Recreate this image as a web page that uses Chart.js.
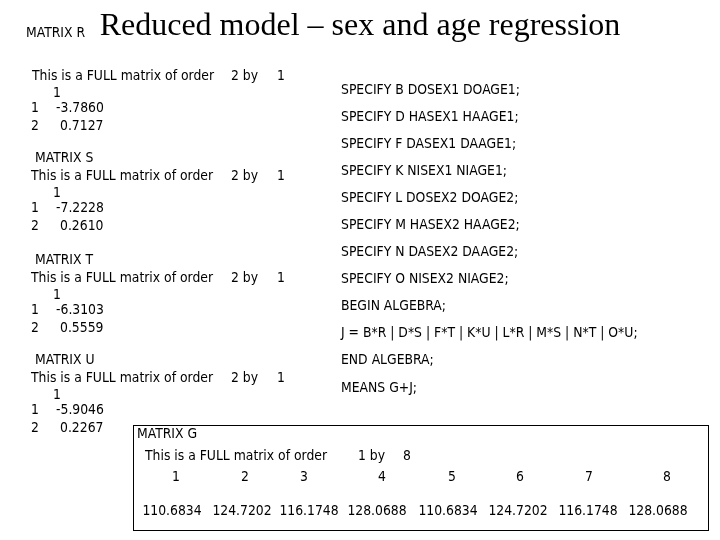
<!DOCTYPE html>
<html>
<head>
<meta charset="utf-8">
<script src="https://cdn.jsdelivr.net/npm/chart.js@4/dist/chart.umd.min.js"></script>
<style>
  html, body { margin: 0; padding: 0; background: #fff; }
</style>
</head>
<body>
<canvas id="slide" width="720" height="540"></canvas>
<script>
const TITLE = 'Reduced model \u2013 sex and age regression';

// left matrices: name and the two row values
const matrixNames = ['R', 'S', 'T', 'U'];
const matrixValues = [
    ['-3.7860', '0.7127'],
    ['-7.2228', '0.2610'],
    ['-6.3103', '0.5559'],
    ['-5.9046', '0.2267']
];

const specifyLines = [
    'SPECIFY B DOSEX1 DOAGE1;',
    'SPECIFY D HASEX1 HAAGE1;',
    'SPECIFY F DASEX1 DAAGE1;',
    'SPECIFY K NISEX1 NIAGE1;',
    'SPECIFY L DOSEX2 DOAGE2;',
    'SPECIFY M HASEX2 HAAGE2;',
    'SPECIFY N DASEX2 DAAGE2;',
    'SPECIFY O NISEX2 NIAGE2;',
    'BEGIN ALGEBRA;',
    'J = B*R | D*S | F*T | K*U | L*R | M*S | N*T | O*U;',
    'END ALGEBRA;',
    'MEANS G+J;'
];

const gColumns = ['1', '2', '3', '4', '5', '6', '7', '8'];
const gValues = ['110.6834', '124.7202', '116.1748', '128.0688', '110.6834', '124.7202', '116.1748', '128.0688'];

const FONT = '13.8px "DejaVu Sans Condensed", Tahoma, "DejaVu Sans", sans-serif';

const textPlugin = {
    id: 'slideText',
    afterDraw(chart) {
        const ctx = chart.ctx;
        const sx = v => chart.scales.x.getPixelForValue(v);
        const sy = v => chart.scales.y.getPixelForValue(v);
        ctx.save();
        ctx.fillStyle = '#000';
        ctx.textBaseline = 'middle';

        // title
        ctx.font = '32px "Liberation Serif", "Times New Roman", serif';
        ctx.textAlign = 'center';
        ctx.fillText(TITLE, sx(360), sy(27));

        ctx.font = FONT;
        ctx.textAlign = 'left';

        // left matrices
        const tops = [33, 158, 260, 360];
        matrixNames.forEach((name, i) => {
            const t = tops[i];
            const first = i === 0 ? 76 : t + 18;
            ctx.fillText('MATRIX ' + name, sx(i === 0 ? 26 : 35), sy(t));
            ctx.fillText('This is a FULL matrix of order', sx(i === 0 ? 32 : 31), sy(first));
            ctx.fillText('2 by', sx(231), sy(first));
            ctx.fillText('1', sx(277), sy(first));
            ctx.fillText('1', sx(53), sy(first + 17));
            ctx.fillText('1', sx(31), sy(first + 32));
            ctx.fillText(matrixValues[i][0], sx(56), sy(first + 32));
            ctx.fillText('2', sx(31), sy(first + 50));
            ctx.fillText(matrixValues[i][1], sx(60), sy(first + 50));
        });

        // specify block
        specifyLines.forEach((line, i) => {
            const y = i < 10 ? 90 + i * 27 : (i === 10 ? 360 : 388);
            ctx.fillText(line, sx(341), sy(y));
        });

        // matrix G box
        ctx.strokeStyle = '#000';
        ctx.lineWidth = 1;
        ctx.fillStyle = '#fff';
        ctx.fillRect(sx(133), sy(425), sx(708) - sx(133), sy(530) - sy(425));
        ctx.strokeRect(sx(133) + 0.5, sy(425) + 0.5, sx(708) - sx(133), sy(530) - sy(425));
        ctx.fillStyle = '#000';
        ctx.fillText('MATRIX G', sx(137), sy(434));
        ctx.fillText('This is a FULL matrix of order', sx(145), sy(456));
        ctx.fillText('1 by', sx(358), sy(456));
        ctx.fillText('8', sx(403), sy(456));
        ctx.textAlign = 'center';
        const colX = [176, 245, 304, 382, 452, 520, 589, 667];
        const valX = [172, 242, 309, 377, 448, 518, 588, 658];
        gColumns.forEach((c, i) => ctx.fillText(c, sx(colX[i]), sy(477)));
        gValues.forEach((v, i) => ctx.fillText(v, sx(valX[i]), sy(511)));
        ctx.restore();
    }
};

new Chart(document.getElementById('slide').getContext('2d'), {
    type: 'scatter',
    data: { datasets: [{ data: [] }] },
    options: {
        responsive: false,
        animation: false,
        layout: { padding: 0 },
        plugins: { legend: { display: false }, tooltip: { enabled: false } },
        scales: {
            x: { type: 'linear', min: 0, max: 720, display: false },
            y: { type: 'linear', min: 0, max: 540, reverse: true, display: false }
        }
    },
    plugins: [textPlugin]
});
</script>
</body>
</html>
